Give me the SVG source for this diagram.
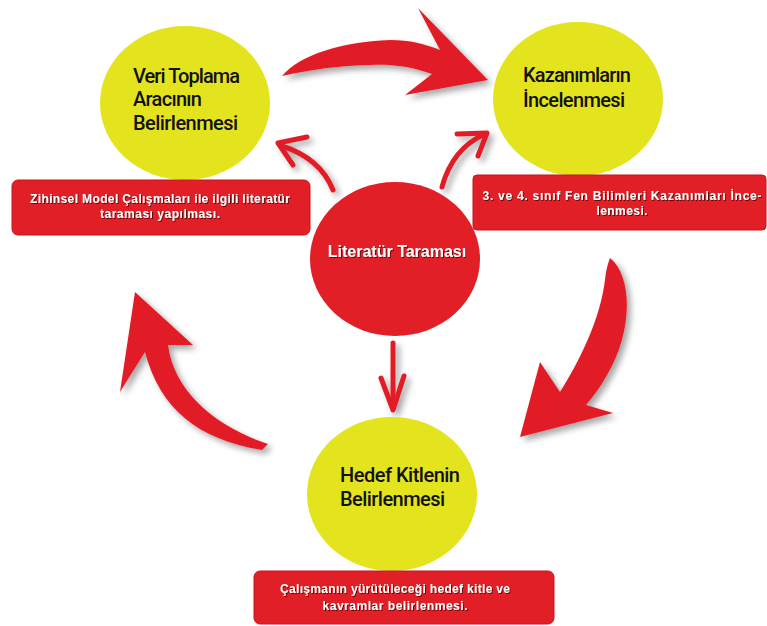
<svg xmlns="http://www.w3.org/2000/svg" width="767" height="626" viewBox="0 0 767 626">
<defs>
<filter id="sh" x="-20%" y="-20%" width="140%" height="140%">
<feGaussianBlur in="SourceAlpha" stdDeviation="3"/>
<feOffset dx="4" dy="4" result="b"/>
<feComponentTransfer><feFuncA type="linear" slope="0.35"/></feComponentTransfer>
<feMerge><feMergeNode/><feMergeNode in="SourceGraphic"/></feMerge>
</filter>
<filter id="ts" x="-5%" y="-20%" width="110%" height="140%">
<feGaussianBlur in="SourceAlpha" stdDeviation="0.6"/>
<feOffset dx="0.6" dy="0.6"/>
<feComponentTransfer><feFuncA type="linear" slope="0.6"/></feComponentTransfer>
<feMerge><feMergeNode/><feMergeNode in="SourceGraphic"/></feMerge>
</filter>
</defs>
<style>
.y{fill:#e4e41e}
.r{fill:#e21f26}
.box{fill:#e21f26;stroke:#c3171c;stroke-width:1}
.lbl{font-family:Roboto,"Open Sans",sans-serif;font-size:20px;font-weight:500;fill:#111}
.bt{font-family:"Liberation Sans",Arial,sans-serif;font-weight:bold;font-size:12px;fill:#fff;text-anchor:middle}
.ct{font-family:"Liberation Sans",Arial,sans-serif;font-weight:bold;font-size:16px;fill:#fff;text-anchor:middle}
.arr{fill:#e21f26}
.thin{fill:none;stroke:#e21f26;stroke-width:5;stroke-linecap:round;stroke-linejoin:round}
</style>
<rect width="767" height="626" fill="#fff"/>

<g id="connectors" filter="url(#sh)">
<path class="arr" d="M282 76 C300 55 340 42 390 40 C410 40 425 44 440 50 L418 8 L488 80 L405 95 L432 74 C410 66 390 64 370 65 C330 66 300 72 282 76 Z"/>
<path class="arr" d="M135 292 L193 345 L168 345 C174 390 212 425 268 444 L262 450 C200 440 160 410 145 352 L120 392 Z"/>
<path class="arr" d="M610 258 C632 275 634 330 607 375 C600 388 592 398 586 405 L613 413 L520 437 L540 362 L560 392 C580 360 600 320 605 280 C606 270 608 263 610 258 Z"/>
<path class="thin" d="M333 190 C325 170 310 155 282 146"/>
<path class="thin" d="M307 137 L278 143 L293 165"/>
<path class="thin" d="M442 187 C448 165 460 145 485 134"/>
<path class="thin" d="M457 134 L487 133 L478 156"/>
<path class="thin" d="M393 343 L393 408"/>
<path class="thin" d="M381 378 L393 410 L404 376"/>
</g>

<g id="veri-toplama">
<ellipse class="y" cx="185" cy="103" rx="85" ry="77"/>
<text class="lbl" x="133" y="83" textLength="107">Veri Toplama</text>
<text class="lbl" x="133" y="106" textLength="69">Aracının</text>
<text class="lbl" x="133" y="130" textLength="105">Belirlenmesi</text>
</g>
<g id="kazanimlar">
<ellipse class="y" cx="578" cy="99" rx="85" ry="77"/>
<text class="lbl" x="523" y="82" textLength="108">Kazanımların</text>
<text class="lbl" x="523" y="107" textLength="102">İncelenmesi</text>
</g>
<g id="hedef-kitle">
<ellipse class="y" cx="392" cy="494" rx="85" ry="77"/>
<text class="lbl" x="340" y="482" textLength="120">Hedef Kitlenin</text>
<text class="lbl" x="340" y="506" textLength="105">Belirlenmesi</text>
</g>
<g id="literatur">
<ellipse class="r" cx="395" cy="259" rx="85" ry="77"/>
<text class="ct" x="397" y="257" filter="url(#ts)">Literatür Taraması</text>
</g>

<g id="not-veri">
<rect class="box" x="12" y="180" width="298" height="55" rx="6"/>
<g filter="url(#ts)">
<text class="bt" x="160" y="203" textLength="260">Zihinsel Model Çalışmaları ile ilgili literatür</text>
<text class="bt" x="160" y="218" textLength="120">taraması yapılması.</text>
</g>
</g>
<g id="not-kazanim">
<rect class="box" x="473" y="175" width="293" height="55" rx="4"/>
<g filter="url(#ts)">
<text class="bt" x="622" y="200" textLength="279">3.  ve 4. sınıf Fen Bilimleri Kazanımları İnce-</text>
<text class="bt" x="622" y="215" textLength="51">lenmesi.</text>
</g>
</g>
<g id="not-hedef">
<rect class="box" x="254" y="571" width="300" height="53" rx="6"/>
<g filter="url(#ts)">
<text class="bt" x="395" y="593" textLength="230">Çalışmanın yürütüleceği hedef kitle ve</text>
<text class="bt" x="395" y="610" textLength="145">kavramlar belirlenmesi.</text>
</g>
</g>
</svg>
